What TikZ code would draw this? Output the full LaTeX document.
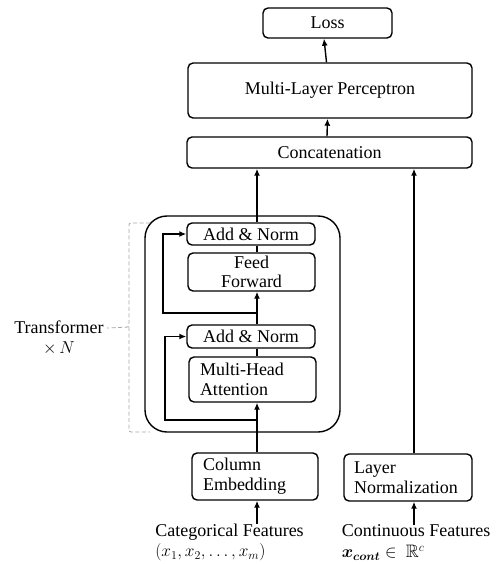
\documentclass[tikz,border=0pt]{standalone}
\usepackage{amsmath,amssymb,bm}
\usepackage{fontspec}
\setmainfont{Liberation Serif}
\usetikzlibrary{arrows.meta}
\begin{document}
\begin{tikzpicture}[x=1pt,y=-1pt,
  font=\fontsize{18}{20}\selectfont,
  box/.style={draw,line width=1.4pt,rounded corners=5pt,inner sep=0pt,align=center},
  lbox/.style={box,align=left,inner xsep=11pt,text width=#1},
  arr/.style={line width=1.4pt,-{Latex[length=7pt,width=6pt]}},
  ln/.style={line width=1.4pt},
  brk/.style={gray!70,line width=0.8pt,dash pattern=on 4pt off 2.5pt,rounded corners=2pt}]
\useasboundingbox (0,0) rectangle (495,564);
% top
\node[box,minimum width=129pt,minimum height=30pt] (loss) at (327.5,23) {Loss};
\node[box,minimum width=284pt,minimum height=55pt] (mlp) at (330,90.5) {Multi-Layer Perceptron};
\node[box,minimum width=285pt,minimum height=31pt] (concat) at (329.5,152.5) {Concatenation};
% transformer block
\node[draw,line width=1.4pt,rounded corners=22pt,minimum width=195pt,minimum height=216pt] (outer) at (242.5,324) {};
\node[box,minimum width=128pt,minimum height=22pt] (an2) at (251,234) {Add \& Norm};
\node[box,minimum width=127pt,minimum height=38pt,font=\fontsize{18}{19}\selectfont] (ff) at (251.5,272) {Feed\\Forward};
\node[box,minimum width=128pt,minimum height=23pt] (an1) at (251,336.5) {Add \& Norm};
\node[lbox=105pt,minimum height=45pt] (mha) at (252.5,379.5) {Multi-Head\\Attention};
% embeddings
\node[lbox=104pt,minimum height=47pt] (colemb) at (255,476.5) {Column\\Embedding};
\node[lbox=108pt,inner xsep=10pt,minimum height=47pt] (lnorm) at (408,477.5) {Layer\\Normalization};
% inputs
\node[align=left,inner sep=0pt] (cat) at (229.5,542.5) {Categorical Features\\[0.5pt]$(x_1, x_2, \ldots, x_m)$};
\node[align=left,inner sep=0pt] (cont) at (416,542.5) {Continuous Features\\[1pt]$\bm{x}_{\bm{cont}} \in\ \mathbb{R}^c$};
% label
\node[align=center,inner sep=0pt] (tf) at (59,338) {Transformer\\$\times\, N$};
% coordinates
\coordinate (spine) at (257,0);
\coordinate (spine2) at (414,0);
\coordinate (r1) at (257,420);
\coordinate (r1l) at (165,420);
\coordinate (r2) at (257,313);
\coordinate (r2l) at (163,313);
\coordinate (bt) at (129,223);
\coordinate (bm) at (129,327);
\coordinate (bb) at (129,432);
\coordinate (tick) at (107,328);
% connectors
\draw[arr] (cat.north -| spine) -- (colemb.south -| spine);
\draw[arr] (cont.north -| spine2) -- (lnorm.south -| spine2);
\draw[arr] (colemb.north -| spine) -- (mha.south -| spine);
\draw[ln] (mha.north -| spine) -- (an1.south -| spine);
\draw[arr] (an1.north -| spine) -- (ff.south -| spine);
\draw[ln] (ff.north -| spine) -- (an2.south -| spine);
\draw[arr] (an2.north -| spine) -- (concat.south -| spine);
\draw[arr] (lnorm.north -| spine2) -- (concat.south -| spine2);
\draw[arr] ([xshift=-2.5pt]concat.north) -- ([xshift=-2.5pt]mlp.south);
\draw[arr] ([xshift=-3.5pt]mlp.north) -- ([xshift=-3.5pt]loss.south);
\draw[arr] (r1) -- (r1l) |- (an1.west);
\draw[arr] (r2) -- (r2l) |- (an2.west);
% bracket
\draw[brk] (150,223) -- (bt) -- (bm) -- (tick);
\draw[brk] (bm) -- (bb) -- (150,432);
\end{tikzpicture}
\end{document}
